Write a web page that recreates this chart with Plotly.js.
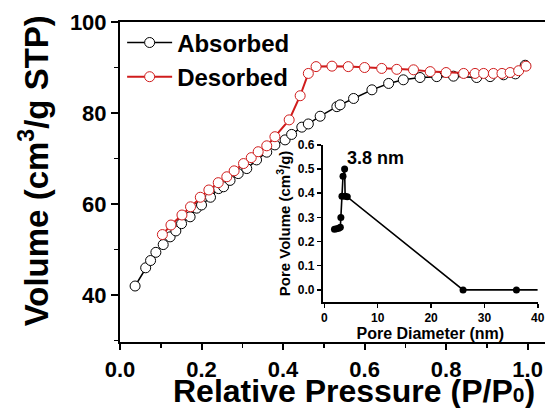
<!DOCTYPE html>
<html>
<head>
<meta charset="utf-8">
<script src="https://cdn.plot.ly/plotly-3.0.1.min.js"></script>
<style>html,body{margin:0;padding:0;background:#fff;}#chart{width:545px;height:408px;}</style>
</head>
<body>
<div id="chart"></div>
<script>
// Adsorption branch (relative pressure, volume cm3/g STP)
const adsP = [0.037, 0.063, 0.075, 0.088, 0.106, 0.123, 0.137, 0.151, 0.172, 0.188, 0.200, 0.222, 0.242, 0.254, 0.270, 0.290, 0.311, 0.335, 0.360, 0.380, 0.405, 0.421, 0.446, 0.462, 0.491, 0.532, 0.540, 0.573, 0.618, 0.659, 0.695, 0.736, 0.777, 0.818, 0.875, 0.908, 0.941, 0.970, 0.994];
const adsV = [42.0, 46.0, 47.6, 49.4, 51.1, 52.8, 54.1, 55.7, 57.2, 59.1, 59.8, 61.5, 63.4, 63.8, 65.2, 66.7, 67.8, 69.7, 71.4, 73.0, 74.1, 75.3, 76.9, 77.6, 79.3, 81.4, 81.8, 83.2, 85.1, 86.5, 87.3, 87.8, 88.0, 88.1, 87.8, 88.0, 88.4, 88.6, 90.5];
// Desorption branch
const desP = [0.104, 0.125, 0.152, 0.173, 0.197, 0.218, 0.241, 0.262, 0.280, 0.303, 0.322, 0.339, 0.360, 0.380, 0.415, 0.442, 0.462, 0.481, 0.520, 0.560, 0.600, 0.642, 0.679, 0.720, 0.761, 0.800, 0.843, 0.871, 0.892, 0.916, 0.937, 0.957, 0.978, 0.996];
const desV = [53.3, 55.4, 57.6, 59.4, 61.5, 63.1, 64.7, 66.0, 67.3, 68.9, 70.2, 71.5, 72.8, 74.8, 78.5, 83.8, 88.7, 90.2, 90.3, 90.2, 90.0, 89.8, 89.6, 89.5, 89.1, 88.9, 88.7, 88.7, 88.7, 88.7, 88.7, 88.9, 89.3, 90.3];
// Inset: pore size distribution
const poreD = [1.9, 2.3, 2.7, 3.0, 3.1, 3.3, 3.5, 3.8, 3.9, 4.3, 26, 36, 40];
const poreV = [0.251, 0.253, 0.255, 0.259, 0.300, 0.388, 0.470, 0.500, 0.388, 0.385, 0.0, 0.0, 0.0];
const peakLabel = '3.8 nm';
const seriesNames = ['Absorbed', 'Desorbed'];
// Tick labels
const xTickVals = [0, 0.2, 0.4, 0.6, 0.8, 1.0];
const xTickText = ['0.0', '0.2', '0.4', '0.6', '0.8', '1.0'];
const yTickVals = [40, 60, 80, 100];
const yTickText = ['40', '60', '80', '100'];
const x2TickVals = [0, 10, 20, 30, 40];
const x2TickText = ['0', '10', '20', '30', '40'];
const y2TickVals = [0, 0.1, 0.2, 0.3, 0.4, 0.5, 0.6];
const y2TickText = ['0.0', '0.1', '0.2', '0.3', '0.4', '0.5', '0.6'];
const titles = {x: 'Relative Pressure (P/P<span style="font-size:21px">0</span>)', y: 'Volume (cm<sup>3</sup>/g STP)',
                x2: 'Pore Diameter (nm)', y2: 'Pore Volume (cm<sup>3</sup>/g)'};

const FONT = 'Liberation Sans, Arial, sans-serif';
const RED = '#d01c1c';
const bold = arr => arr.map(t => '<b>' + t + '</b>');

const traces = [
  {x: adsP, y: adsV, name: seriesNames[0], mode: 'lines+markers', type: 'scatter',
   legendgroup: 'a', xaxis: 'x', yaxis: 'y',
   line: {color: '#000', width: 1.5},
   marker: {symbol: 'circle', size: 10, color: '#fff', line: {color: '#000', width: 1}}},
  {x: desP, y: desV, name: seriesNames[1], mode: 'lines+markers', type: 'scatter',
   legendgroup: 'b', xaxis: 'x', yaxis: 'y',
   line: {color: RED, width: 2},
   marker: {symbol: 'circle', size: 10, color: '#fff', line: {color: RED, width: 1}}},
  {x: poreD, y: poreV, mode: 'lines', type: 'scatter', showlegend: false,
   xaxis: 'x2', yaxis: 'y2', line: {color: '#000', width: 1.6}},
  {x: poreD.slice(0, -1), y: poreV.slice(0, -1), mode: 'markers', type: 'scatter', showlegend: false,
   xaxis: 'x2', yaxis: 'y2', marker: {color: '#000', size: 7}}
];

const axisCommon = {showgrid: false, zeroline: false, linecolor: '#000', tickcolor: '#000', ticks: 'outside', tickmode: 'array'};

const layout = {
  width: 545, height: 408,
  margin: {l: 120, r: 0, t: 22, b: 66, pad: 0},
  paper_bgcolor: '#fff', plot_bgcolor: 'rgba(0,0,0,0)',
  font: {family: FONT, color: '#000'},
  showlegend: true,
  legend: {x: 0.005, y: 1.005, xanchor: 'left', yanchor: 'top', bgcolor: 'rgba(0,0,0,0)',
           font: {family: FONT, size: 24, color: '#000', weight: 'bold'},
           traceorder: 'grouped', tracegroupgap: 0, itemwidth: 45},
  xaxis: Object.assign({}, axisCommon, {
          domain: [0, 1], range: [0, 1.0426], anchor: 'y',
          showline: true, linewidth: 2, mirror: true,
          ticklen: 6, tickwidth: 2, ticklabelstandoff: 1,
          tickvals: xTickVals, ticktext: bold(xTickText),
          minor: {tickvals: [0.1, 0.3, 0.5, 0.7, 0.9], ticks: 'outside', ticklen: 4, tickwidth: 1.5, tickcolor: '#000'},
          tickfont: {family: FONT, size: 22}}),
  yaxis: Object.assign({}, axisCommon, {
          domain: [0, 1], range: [29.7, 100], anchor: 'x',
          showline: true, linewidth: 2,
          ticklen: 7, tickwidth: 2,
          tickvals: yTickVals, ticktext: bold(yTickText),
          minor: {tickvals: [30, 50, 70, 90], ticks: 'outside', ticklen: 4, tickwidth: 1.5, tickcolor: '#000'},
          tickfont: {family: FONT, size: 22}}),
  xaxis2: Object.assign({}, axisCommon, {
           domain: [0.477, 0.983], range: [-0.3, 40], anchor: 'y2',
           showline: true, linewidth: 1.8,
           ticklen: 4, tickwidth: 1.5,
           tickvals: x2TickVals, ticktext: bold(x2TickText),
           tickfont: {family: FONT, size: 12},
           title: {text: '<b>' + titles.x2 + '</b>', font: {family: FONT, size: 16}, standoff: 2}}),
  yaxis2: Object.assign({}, axisCommon, {
           domain: [0.125, 0.616], range: [-0.05, 0.6], anchor: 'x2',
           showline: true, linewidth: 1.8,
           ticklen: 4, tickwidth: 1.5,
           tickvals: y2TickVals, ticktext: bold(y2TickText),
           tickfont: {family: FONT, size: 12},
           title: {text: '<b>' + titles.y2 + '</b>', font: {family: FONT, size: 15}, standoff: 3}}),
  annotations: [
    {xref: 'x2', yref: 'y2', x: poreD[7] + 0.1, y: 0.545, xanchor: 'left', yanchor: 'middle',
     text: '<b>' + peakLabel + '</b>', showarrow: false, font: {family: FONT, size: 18, color: '#000'}},
    {xref: 'paper', yref: 'paper', x: 0.551, y: -0.152, xanchor: 'center', yanchor: 'middle',
     text: '<b>' + titles.x + '</b>', showarrow: false, font: {family: FONT, size: 32, color: '#000'}},
    {xref: 'paper', yref: 'paper', x: -0.202, y: 0.534, xanchor: 'center', yanchor: 'middle', textangle: -90,
     text: '<b>' + titles.y + '</b>', showarrow: false, font: {family: FONT, size: 33, color: '#000'}}
  ]
};

Plotly.newPlot('chart', traces, layout, {displayModeBar: false, staticPlot: true});
</script>
</body>
</html>
